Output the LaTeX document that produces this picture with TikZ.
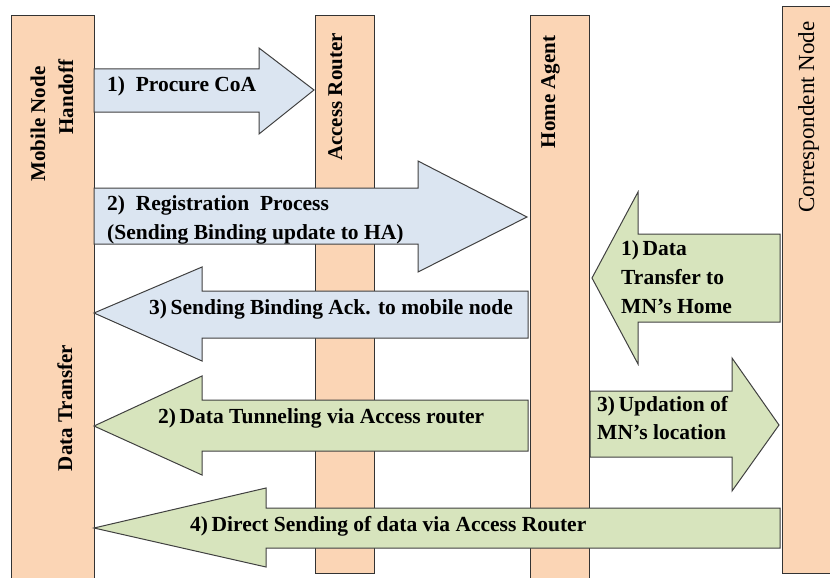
\documentclass[tikz,border=0pt]{standalone}
\usepackage{fontspec}
\setmainfont{Liberation Serif}[BoldFont={Liberation Serif Bold}]
\begin{document}
\begin{tikzpicture}[x=1pt,y=-1pt,
  bar/.style={draw=black!80, line width=1pt, fill=peach},
  bluearrow/.style={draw=black!75, line width=1pt, fill=paleblue, line join=miter},
  greenarrow/.style={draw=black!75, line width=1pt, fill=palegreen, line join=miter},
  lbl/.style={inner sep=0pt, font=\bfseries\fontsize{21.5}{27}\selectfont, align=left},
  vlbl/.style={inner sep=0pt, rotate=90, anchor=base, font=\bfseries\fontsize{21}{25}\selectfont},
]
\definecolor{peach}{HTML}{FBD5B5}
\definecolor{paleblue}{HTML}{DBE5F1}
\definecolor{palegreen}{HTML}{D7E4BD}
\useasboundingbox (0,0) rectangle (830,578);
\clip (0,0) rectangle (830,578);

% lifelines
\draw[bar] (11,16) rectangle (94,600);
\draw[bar] (315,16) rectangle (374,573);
\draw[bar] (530,16) rectangle (589,600);
\draw[bar] (782,7) rectangle (841,573);

\node[vlbl] (mn1) at (45,124) {Mobile Node};
\node[vlbl] (mn2) at (73,97) {Handoff};
\node[vlbl] (dt) at (72,408) {Data Transfer};
\node[vlbl] (ar) at (342,97) {Access Router};
\node[vlbl] (ha) at (555,92) {Home Agent};
\node[vlbl, font=\fontsize{23}{25}\selectfont] (cn) at (814,117) {Correspondent Node};

% 1) procure CoA
\draw[bluearrow] (94,69) -- (259,69) -- (259,48) -- (314,90) -- (259,134) -- (259,112) -- (94,112) -- cycle;
\node[lbl, anchor=base west] (t1) at (107,92) {1)\ \ Procure CoA};

% 2) registration
\draw[bluearrow] (94,188) -- (418,188) -- (418,161) -- (527,217) -- (418,272) -- (418,244) -- (94,244) -- cycle;
\begin{scope}
  \clip (94,188) rectangle (418,244);
  \node[lbl, anchor=base west] (t2a) at (107,210) {2)\ \ Registration\ \ Process};
  \node[lbl, anchor=base west] (t2b) at (107,239) {(Sending Binding update to HA)};
\end{scope}

% 3) binding ack
\draw[bluearrow] (94,313) -- (202,267) -- (202,291) -- (528,291) -- (528,338) -- (202,338) -- (202,361) -- cycle;
\node[lbl, anchor=base west] (t3) at (149,314) {3)\,Sending Binding Ack. to mobile node};

% correspondent node to home agent
\draw[greenarrow] (592,278) -- (638,192) -- (638,234) -- (780,234) -- (780,322) -- (638,322) -- (638,364) -- cycle;
\node[lbl, anchor=base west] (c1a) at (621,255) {1)\,Data};
\node[lbl, anchor=base west] (c1b) at (621,284) {Transfer to};
\node[lbl, anchor=base west] (c1c) at (621,313) {MN’s Home};

% 2) tunneling
\draw[greenarrow] (94,426) -- (202,376) -- (202,400) -- (528,400) -- (528,451) -- (202,451) -- (202,475) -- cycle;
\node[lbl, anchor=base west] (c2) at (158,423) {2)\,Data Tunneling via Access router};

% 3) location update
\draw[greenarrow] (590,391) -- (732,391) -- (732,358) -- (779,425) -- (732,491) -- (732,457) -- (590,457) -- cycle;
\node[lbl, anchor=base west] (c3a) at (597,411) {3)\,Updation of};
\node[lbl, anchor=base west] (c3b) at (597,439) {MN’s location};

% 4) direct sending
\draw[greenarrow] (94,528) -- (266,488) -- (266,508) -- (780,508) -- (780,548) -- (266,548) -- (266,567) -- cycle;
\node[lbl, anchor=base west] (c4) at (190,531) {4)\,Direct Sending of data via Access Router};
\end{tikzpicture}
\end{document}
